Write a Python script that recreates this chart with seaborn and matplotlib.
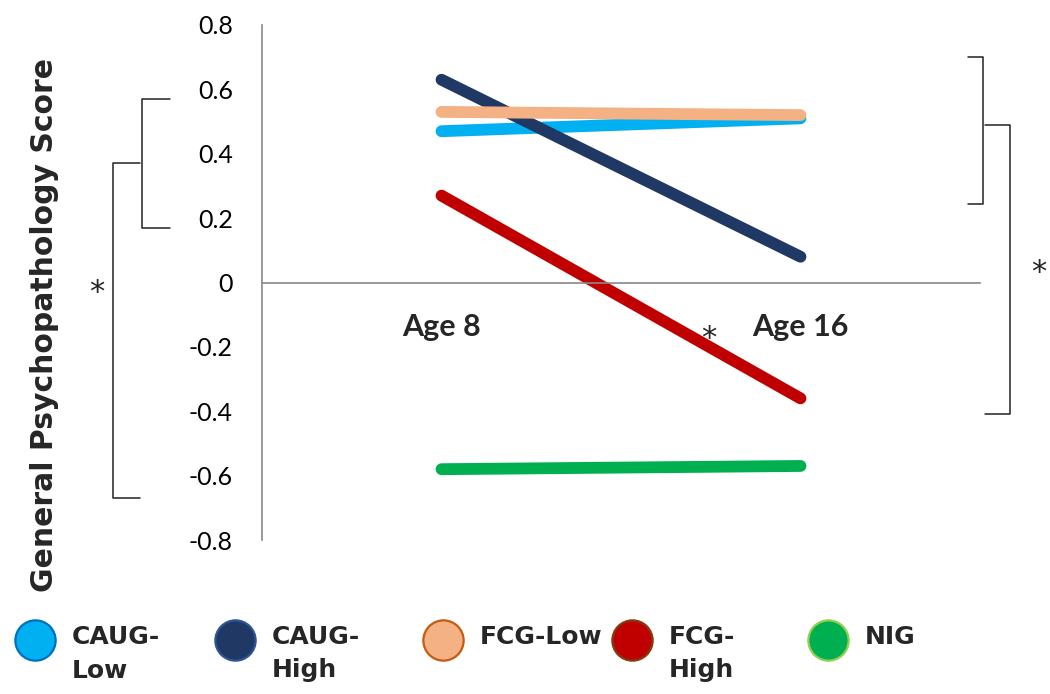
import pandas as pd
import matplotlib.pyplot as plt
import matplotlib.transforms as mtransforms
from matplotlib.lines import Line2D
import seaborn as sns

ages = ['Age 8', 'Age 16']
groups = ['CAUG-Low', 'CAUG-High', 'FCG-Low', 'FCG-High', 'NIG']
legend_labels = ['CAUG-\nLow', 'CAUG-\nHigh', 'FCG-Low', 'FCG-\nHigh', 'NIG']
caug_low = [0.47, 0.51]
caug_high = [0.63, 0.08]
fcg_low = [0.53, 0.52]
fcg_high = [0.27, -0.36]
nig = [-0.58, -0.57]
yticks = [-0.8, -0.6, -0.4, -0.2, 0, 0.2, 0.4, 0.6, 0.8]

line_colors = ['#00B0F0', '#203864', '#F4B183', '#C00000', '#00B050']
edge_colors = ['#0070C0', '#2F5597', '#C55A11', '#843C0C', '#92D050']

sns.set_theme(style='white')
plt.rcParams['font.family'] = ['Lato', 'DejaVu Sans']

# long table for seaborn
age_pos = {'Age 8': 0.5, 'Age 16': 1.5}
rows = []
for g, vals in zip(groups, [caug_low, caug_high, fcg_low, fcg_high, nig]):
    for a, v in zip(ages, vals):
        rows.append({'group': g, 'age': a, 'pos': age_pos[a], 'score': v})
df = pd.DataFrame(rows)

fig = plt.figure(figsize=(10.5, 6.94), dpi=100)
ax = fig.add_axes([262/1050, 1-540/694, 718/1050, 515/694])

sns.lineplot(data=df, x='pos', y='score', hue='group', hue_order=groups,
             palette=line_colors, linewidth=8.5, legend=False, sort=False,
             solid_capstyle='round', ax=ax)

ax.set_xlim(0, 2)
ax.set_ylim(-0.8, 0.8)
ax.set_yticks(yticks)
ax.set_yticklabels(['0' if t == 0 else f'{t:.1f}' for t in yticks])
ax.set_xticks([0, 1, 2])
ax.set_xticklabels([])
ax.set_xticks([age_pos[a] for a in ages], minor=True)
ax.set_xticklabels(ages, minor=True)
ax.tick_params(axis='x', which='minor', length=0, pad=22, labelsize=22)
ax.tick_params(axis='x', which='major', direction='out', length=8,
               width=1.2, color='#898989')
ax.tick_params(axis='y', direction='out', length=7, width=1.2,
               color='#898989', pad=14, labelsize=18, labelcolor='black')
ax.set_xlabel('')
ax.set_ylabel('')

for s in ['top', 'right']:
    ax.spines[s].set_visible(False)
ax.spines['bottom'].set_position(('data', 0))
ax.spines['bottom'].set_color('#898989')
ax.spines['left'].set_color('#898989')
ax.spines['bottom'].set_linewidth(1.2)
ax.spines['left'].set_linewidth(1.2)

# significance brackets
tr = mtransforms.blended_transform_factory(ax.transAxes, ax.transData)


def bracket(x_out, x_in, y0, y1):
    ax.plot([x_in, x_out, x_out, x_in], [y0, y0, y1, y1], color='#222222',
            lw=1.1, transform=tr, clip_on=False)


bracket(-0.167, -0.128, 0.57, 0.17)
bracket(-0.207, -0.170, 0.37, -0.67)
bracket(1.004, 0.983, 0.70, 0.245)
bracket(1.042, 1.007, 0.49, -0.41)

ax.text(-0.23, -0.03, '*', transform=tr, fontsize=22, ha='center',
        va='center', family='DejaVu Sans')
ax.text(1.245, -0.175, '*', fontsize=22, ha='center', va='center',
        family='DejaVu Sans')
ax.text(1.082, 0.03, '*', transform=tr, fontsize=22, ha='center',
        va='center', family='DejaVu Sans')

fig.text(45/1050, 1-325/694, 'General Psychopathology Score', rotation=90,
         ha='center', va='center', fontsize=21.5, fontweight='bold',
         family='DejaVu Sans')

# legend along the bottom
leg_x = [35, 235, 443, 632, 828]
for x, lab, fc, ec in zip(leg_x, legend_labels, line_colors, edge_colors):
    fig.add_artist(Line2D([x/1050], [1-640/694], marker='o', markersize=29,
                          markerfacecolor=fc, markeredgecolor=ec,
                          markeredgewidth=1.6, linestyle='none',
                          transform=fig.transFigure))
    fig.text((x+37)/1050, 1-625/694, lab, ha='left', va='top', fontsize=18,
             fontweight='bold', family='DejaVu Sans', linespacing=1.5)

# tick labels get rebuilt on draw, so make the age labels bold afterwards
fig.canvas.draw()
for lbl in ax.get_xticklabels(minor=True):
    lbl.set_fontweight('bold')

fig.savefig('out.png', dpi=100)
